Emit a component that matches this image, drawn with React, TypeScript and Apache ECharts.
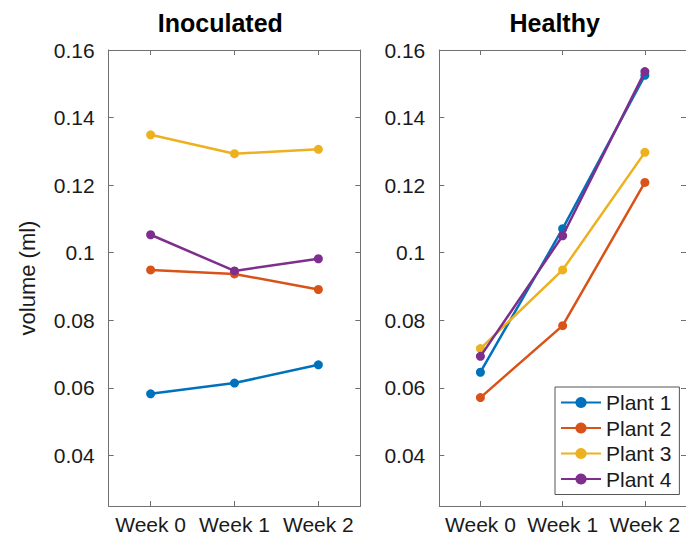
import React, { useEffect, useRef } from "react";
import * as echarts from "echarts";

const categories = ["Week 0", "Week 1", "Week 2"];
const plantNames = ["Plant 1", "Plant 2", "Plant 3", "Plant 4"];
const plantColors = ["#0072BD", "#D95319", "#EDB120", "#7E2F8E"];

const inoculatedPlant1 = [0.0582, 0.0614, 0.0668];
const inoculatedPlant2 = [0.0949, 0.0937, 0.0891];
const inoculatedPlant3 = [0.1349, 0.1293, 0.1306];
const inoculatedPlant4 = [0.1053, 0.0946, 0.0982];

const healthyPlant1 = [0.0646, 0.1071, 0.1525];
const healthyPlant2 = [0.0571, 0.0784, 0.1208];
const healthyPlant3 = [0.0716, 0.0949, 0.1297];
const healthyPlant4 = [0.0693, 0.105, 0.1536];

const inoculated = [inoculatedPlant1, inoculatedPlant2, inoculatedPlant3, inoculatedPlant4];
const healthy = [healthyPlant1, healthyPlant2, healthyPlant3, healthyPlant4];

const panelTitles = ["Inoculated", "Healthy"];
const yAxisTitle = "volume (ml)";
const yMin = 0.025;
const yMax = 0.16;

const FONT = "'Liberation Sans', Arial, Helvetica, sans-serif";
const AXIS_COLOR = "#707070";
const TEXT_COLOR = "#1a1a1a";

export default function App() {
  const ref = useRef<HTMLDivElement>(null);

  useEffect(() => {
    if (!ref.current) return;
    const chart = echarts.init(ref.current, undefined, { renderer: "svg" });

    const grids = [
      { left: 108.7, top: 50, width: 251.6, height: 456 },
      { left: 439.3, top: 50, width: 252.7, height: 456 },
    ];

    const xAxes: any[] = [];
    const yAxes: any[] = [];
    grids.forEach((_, gi) => {
      ["bottom", "top"].forEach((pos) => {
        xAxes.push({
          gridIndex: gi,
          type: "category",
          data: categories,
          position: pos,
          boundaryGap: true,
          axisLine: { show: true, onZero: false, lineStyle: { color: AXIS_COLOR, width: 1 } },
          axisTick: { show: true, inside: true, alignWithLabel: true, interval: 0, length: 5, lineStyle: { color: AXIS_COLOR } },
          axisLabel: {
            show: pos === "bottom",
            interval: 0,
            hideOverlap: false,
            fontSize: 21,
            fontFamily: FONT,
            color: TEXT_COLOR,
            margin: 8,
          },
          splitLine: { show: false },
        });
      });
      ["left", "right"].forEach((pos) => {
        yAxes.push({
          gridIndex: gi,
          type: "value",
          min: yMin,
          max: yMax,
          splitNumber: 7,
          position: pos,
          axisLine: { show: true, onZero: false, lineStyle: { color: AXIS_COLOR, width: 1 } },
          axisTick: { show: true, inside: true, length: 5, lineStyle: { color: AXIS_COLOR } },
          axisLabel: {
            show: pos === "left",
            showMinLabel: false,
            fontSize: 21,
            fontFamily: FONT,
            color: TEXT_COLOR,
            margin: 14,
          },
          splitLine: { show: false },
        });
      });
    });

    const series: any[] = [];
    [inoculated, healthy].forEach((panel, pi) => {
      panel.forEach((values, i) => {
        series.push({
          type: "line",
          name: plantNames[i],
          xAxisIndex: pi * 2,
          yAxisIndex: pi * 2,
          data: values,
          symbol: "circle",
          symbolSize: 9,
          showSymbol: true,
          lineStyle: { color: plantColors[i], width: 2.5 },
          itemStyle: { color: plantColors[i] },
          color: plantColors[i],
          z: 2 + i,
        });
      });
    });

    chart.setOption({
      animation: false,
      backgroundColor: "#ffffff",
      grid: grids,
      xAxis: xAxes,
      yAxis: yAxes,
      series,
      legend: {
        data: plantNames,
        orient: "vertical",
        left: 555,
        top: 387,
        itemWidth: 40,
        itemHeight: 14,
        itemGap: 4.5,
        padding: [5, 8, 5, 5],
        backgroundColor: "#ffffff",
        borderColor: "#555555",
        borderWidth: 1,
        borderRadius: 0,
        textStyle: { fontSize: 21, fontFamily: FONT, color: TEXT_COLOR },
      },
      graphic: [
        {
          type: "text",
          x: 220.3,
          y: 23,
          style: {
            text: panelTitles[0],
            fontSize: 25,
            fontWeight: "bold",
            fontFamily: FONT,
            fill: "#000000",
            textAlign: "center",
            textVerticalAlign: "middle",
          },
        },
        {
          type: "text",
          x: 554.7,
          y: 23,
          style: {
            text: panelTitles[1],
            fontSize: 25,
            fontWeight: "bold",
            fontFamily: FONT,
            fill: "#000000",
            textAlign: "center",
            textVerticalAlign: "middle",
          },
        },
        {
          type: "text",
          x: 27,
          y: 278,
          rotation: Math.PI / 2,
          style: {
            text: yAxisTitle,
            fontSize: 22,
            fontFamily: FONT,
            fill: TEXT_COLOR,
            textAlign: "center",
            textVerticalAlign: "middle",
          },
        },
      ],
    });

    return () => chart.dispose();
  }, []);

  return (
    <div
      ref={ref}
      style={{ position: "fixed", left: 0, top: 0, width: 686, height: 536 }}
    />
  );
}
